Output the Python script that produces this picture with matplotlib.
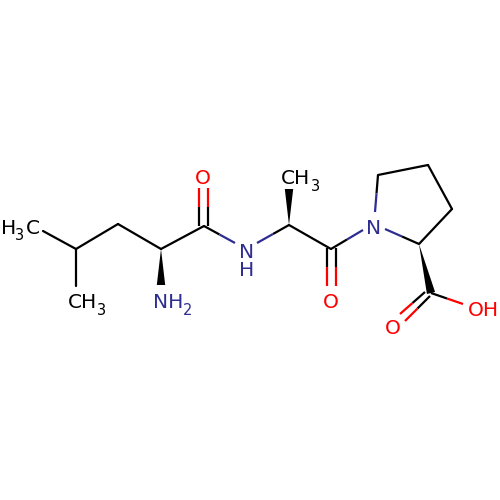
import matplotlib
matplotlib.use('Agg')
import matplotlib.pyplot as plt

BLUE = '#2d2d92'
RED = '#ff0000'
BLACK = '#000000'

# atom positions (pixels)
atoms = {
    'me1': (43, 231), 'cg': (76, 249), 'me2': (76, 286), 'cb': (118, 224),
    'ca1': (161, 249), 'n1': (161, 285), 'c1': (204, 226),
    'nh': (235, 243), 'nh2': (257, 243), 'ca2': (289, 225), 'me3': (289, 189),
    'c2': (331, 249), 'n3a': (363, 230), 'n3b': (375, 212), 'n3c': (385, 229),
    'cd': (378, 175), 'cg2': (428, 165), 'cb2': (452, 209), 'ca3': (419, 244),
    'c3': (431, 293), 'oh': (463, 304),
}
black_bonds = [('me1', 'cg'), ('cg', 'me2'), ('cg', 'cb'), ('cb', 'ca1'), ('ca1', 'c1'),
               ('ca2', 'c2'), ('cd', 'cg2'), ('cg2', 'cb2'), ('cb2', 'ca3')]
# bonds that change colour half way: (from, to, colour of the far half)
hetero_bonds = [('c1', 'nh', BLUE), ('ca2', 'nh2', BLUE), ('c2', 'n3a', BLUE),
                ('cd', 'n3b', BLUE), ('ca3', 'n3c', BLUE), ('c3', 'oh', RED)]
wedges = [('ca1', 'n1'), ('ca2', 'me3'), ('ca3', 'c3')]
double_bonds = [
    ((199, 226), (199, 188)), ((208, 226), (208, 188)),
    ((327, 248), (327, 286)), ((336, 248), (336, 286)),
    ((425, 292), (400, 314)), ((430, 296), (405, 321)),
]
labels = [
    (203, 177, 'O', RED), (331, 300, 'O', RED), (393, 327, 'O', RED),
    (483, 308, 'OH', RED), (247, 250, 'N', BLUE), (247, 268, 'H', BLUE),
    (374, 226, 'N', BLUE), (9, 226, 'H', BLACK), (33, 226, 'C', BLACK),
    (82.5, 300, 'CH', BLACK), (296, 177, 'CH', BLACK), (168, 300, 'NH', BLUE),
]
subscripts = [
    (20, 234, '3', BLACK), (101, 309, '3', BLACK), (316, 185, '3', BLACK),
    (188, 309, '2', BLUE),
]

fig = plt.figure(figsize=(5, 5), dpi=100)
ax = fig.add_axes([0, 0, 1, 1])
ax.set_xlim(0, 500)
ax.set_ylim(500, 0)
ax.axis('off')

lw = 1.6
for a, b in black_bonds:
    ax.plot([atoms[a][0], atoms[b][0]], [atoms[a][1], atoms[b][1]], color=BLACK, lw=lw, solid_capstyle='round')

for a, b, col in hetero_bonds:
    x0, y0 = atoms[a]
    x1, y1 = atoms[b]
    xm = (x0 + x1) / 2
    ym = (y0 + y1) / 2
    ax.plot([x0, xm], [y0, ym], color=BLACK, lw=lw, solid_capstyle='butt')
    ax.plot([xm, x1], [ym, y1], color=col, lw=lw, solid_capstyle='butt')

for p, q in double_bonds:
    xm = (p[0] + q[0]) / 2
    ym = (p[1] + q[1]) / 2
    ax.plot([p[0], xm], [p[1], ym], color=BLACK, lw=lw, solid_capstyle='butt')
    ax.plot([xm, q[0]], [ym, q[1]], color=RED, lw=lw, solid_capstyle='butt')

# stereo wedges, narrow end on the chiral atom
for a, b in wedges:
    x0, y0 = atoms[a]
    x1, y1 = atoms[b]
    dx = x1 - x0
    dy = y1 - y0
    d = (dx ** 2 + dy ** 2) ** 0.5
    nx = -dy / d * 4.2
    ny = dx / d * 4.2
    ax.fill([x0, x1 + nx, x1 - nx], [y0, y1 + ny, y1 - ny], color=BLACK, lw=0)

for x, y, s, col in labels:
    ax.text(x, y, s, color=col, fontsize=14.5, family='DejaVu Sans', ha='center', va='center_baseline')
for x, y, s, col in subscripts:
    ax.text(x, y, s, color=col, fontsize=10.5, family='DejaVu Sans', ha='center', va='center_baseline')

fig.savefig('out.png', dpi=100, facecolor='white')
